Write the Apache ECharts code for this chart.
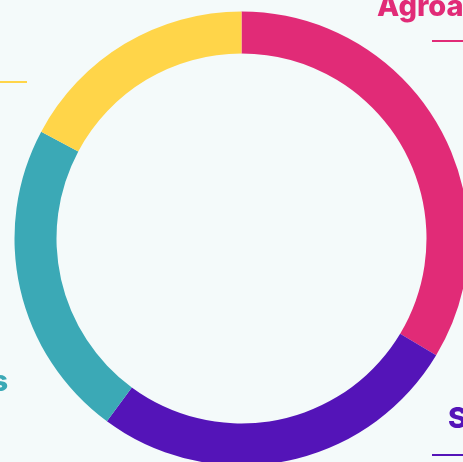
<!DOCTYPE html>
<html>
<head>
<meta charset="utf-8">
<style>
    html, body { margin: 0; padding: 0; background: #f4fafa; }
    #pie_main { width: 463px; height: 462px; }
</style>
<script src="https://cdn.jsdelivr.net/npm/echarts@6/dist/echarts.min.js"></script>
</head>
<body>
<div id="pie_main"></div>
<script>
// 数据
var categories = ['Agroalimentaire', 'Services', 'Industries', 'Autres'];
var shareValues = [33.6, 26.5, 22.7, 17.2];
var sliceColors = ['#e12b77', '#5414b8', '#3ba9b6', '#ffd549'];

// 标签位置（文字 + 下划线）
var labelSpots = [
    { x: 377, y: 7, align: 'left', line: [432, 480], lineY: 41 },
    { x: 448, y: 419, align: 'left', line: [432, 480], lineY: 455 },
    { x: 8, y: 382, align: 'right', line: [-120, -20], lineY: 418 },
    { x: -12, y: 56, align: 'right', line: [-120, 27], lineY: 82 }
];

function bsDonut(id) {
    var myChart = echarts.init(document.querySelector(id));
    var dataArr = [];
    for (var i = 0; i < categories.length; i++) {
        dataArr.push({
            name: categories[i],
            value: shareValues[i],
            itemStyle: { color: sliceColors[i] },
            label: { color: sliceColors[i] }
        });
    }
    var option = {
        backgroundColor: '#f4fafa',
        animation: false,
        series: [{
            type: 'pie',
            center: [241.5, 238.5],
            radius: [185, 227],
            startAngle: 90,
            clockwise: true,
            avoidLabelOverlap: false,
            data: dataArr,
            label: {
                show: true,
                position: 'outside',
                formatter: '{b}',
                fontFamily: 'Inter',
                fontWeight: 800,
                fontSize: 29,
                overflow: 'none',
                width: 400
            },
            labelLine: {
                show: true,
                lineStyle: { width: 2 }
            },
            labelLayout: function(params) {
                var s = labelSpots[params.dataIndex];
                return {
                    x: s.x,
                    y: s.y,
                    align: s.align,
                    verticalAlign: 'middle',
                    labelLinePoints: [[s.line[0], s.lineY], [s.line[0], s.lineY], [s.line[1], s.lineY]]
                };
            }
        }]
    };
    myChart.setOption(option);
}
bsDonut('#pie_main');
</script>
</body>
</html>
